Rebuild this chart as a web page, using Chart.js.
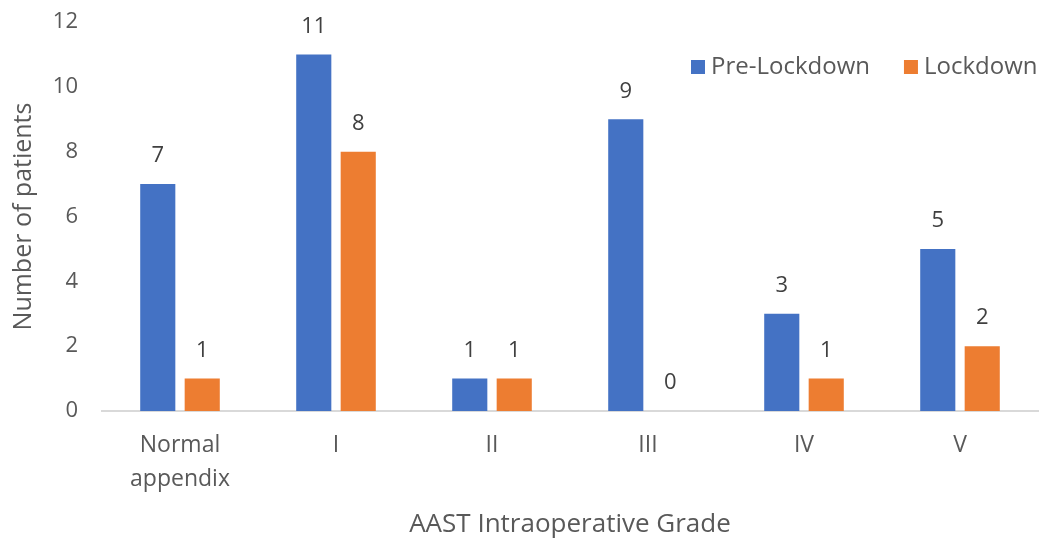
<!DOCTYPE html>
<html>
<head>
<meta charset="utf-8">
<script src="https://cdn.jsdelivr.net/npm/chart.js@4.4.1/dist/chart.umd.min.js"></script>
<style>
  html, body { margin: 0; padding: 0; background: #ffffff; }
  #wrap { width: 1040px; height: 542px; position: relative; }
</style>
</head>
<body>
<div id="wrap"><canvas id="c"></canvas></div>
<script>
// Patients by AAST intraoperative grade, before and during lockdown
const categories = [["Normal", "appendix"], "I", "II", "III", "IV", "V"];
const preLockdown = [7, 11, 1, 9, 3, 5];
const lockdown = [1, 8, 1, 0, 1, 2];
const seriesNames = ["Pre-Lockdown", "Lockdown"];
const seriesColors = ["#4472C4", "#ED7D31"];
const yTicks = [0, 2, 4, 6, 8, 10, 12];

const FONT = "'Open Sans', 'Liberation Sans', sans-serif";
const TEXT = "#595959";

// Value labels above each bar
const barValueLabels = {
  id: "barValueLabels",
  afterDatasetsDraw(chart) {
    const ctx = chart.ctx;
    ctx.save();
    ctx.font = "22px " + FONT;
    ctx.fillStyle = "#404040";
    ctx.textAlign = "center";
    ctx.textBaseline = "middle";
    chart.data.datasets.forEach((ds, i) => {
      chart.getDatasetMeta(i).data.forEach((bar, j) => {
        ctx.fillText(String(ds.data[j]), bar.x, bar.y - 28);
      });
    });
    ctx.restore();
  }
};

// Legend in the upper right of the plot
const cornerLegend = {
  id: "cornerLegend",
  afterDraw(chart) {
    const ctx = chart.ctx;
    ctx.save();
    ctx.font = "24px " + FONT;
    ctx.textBaseline = "middle";
    const y = 67;
    let x = 691;
    chart.data.datasets.forEach((ds, i) => {
      ctx.fillStyle = ds.backgroundColor;
      ctx.fillRect(x, y - 7, 14, 14);
      ctx.fillStyle = TEXT;
      ctx.textAlign = "left";
      ctx.fillText(ds.label, x + 20, y);
      x += 20 + ctx.measureText(ds.label).width + 34;
    });
    ctx.restore();
  }
};

new Chart(document.getElementById("c"), {
  type: "bar",
  data: {
    labels: categories,
    datasets: [
      { label: seriesNames[0], data: preLockdown, backgroundColor: seriesColors[0] },
      { label: seriesNames[1], data: lockdown, backgroundColor: seriesColors[1] }
    ]
  },
  options: {
    responsive: true,
    maintainAspectRatio: false,
    animation: false,
    layout: { padding: { left: 0, right: 2, top: 22, bottom: 0 } },
    datasets: { bar: { categoryPercentage: 0.57, barPercentage: 0.79 } },
    plugins: { legend: { display: false }, tooltip: { enabled: false } },
    scales: {
      x: {
        grid: { display: false, drawTicks: false },
        border: { display: true, color: "#D9D9D9", width: 2 },
        ticks: { color: TEXT, font: { family: FONT, size: 23, lineHeight: 1.5 }, padding: 17, maxRotation: 0 },
        title: { display: true, text: "AAST Intraoperative Grade", color: TEXT,
                 font: { family: FONT, size: 26 }, padding: { top: 10, bottom: 2 } },
        afterFit(scale) { scale.height = 131; scale.paddingLeft = 0; scale.paddingRight = 0; }
      },
      y: {
        min: 0, max: 12,
        afterBuildTicks(scale) { scale.ticks = yTicks.map(v => ({ value: v })); },
        grid: { display: false, drawTicks: false },
        border: { display: false },
        ticks: { color: TEXT, font: { family: FONT, size: 22 }, padding: 24 },
        title: { display: true, text: "Number of patients", color: TEXT,
                 font: { family: FONT, size: 25 }, padding: { top: 9, bottom: 0 } },
        afterFit(scale) { scale.width = 102; scale.paddingTop = 0; scale.paddingBottom = 0; }
      }
    }
  },
  plugins: [barValueLabels, cornerLegend]
});
</script>
</body>
</html>
